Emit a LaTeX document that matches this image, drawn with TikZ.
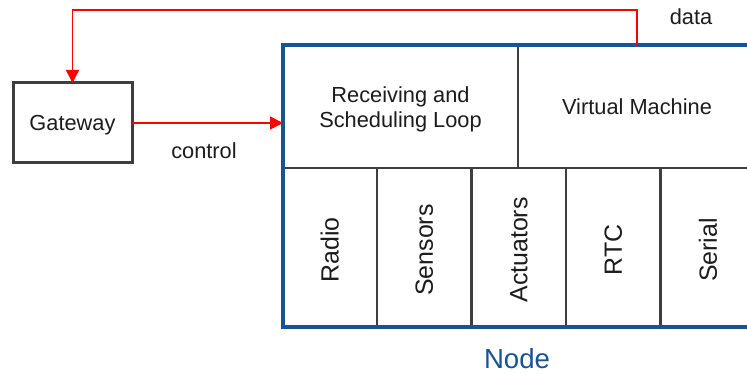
\documentclass[tikz,border=0pt]{standalone}
\usepackage{fontspec}
\setmainfont{Liberation Sans}
\usetikzlibrary{arrows.meta}
\definecolor{nodeblue}{RGB}{22,84,150}
\definecolor{frame}{RGB}{62,62,62}
\definecolor{ink}{RGB}{28,28,28}
\definecolor{linkred}{RGB}{255,0,0}
\begin{document}
\begin{tikzpicture}[x=1pt,y=-1pt,
  every node/.style={font=\fontsize{21.8}{25.5}\selectfont, text=ink, inner sep=0pt, outer sep=0pt},
  unit/.style={draw=frame, line width=2.6pt, rectangle, align=center},
  slot/.style={unit, rotate=90, minimum width=159pt, minimum height=94.6pt,
               font=\fontsize{24.9}{28}\selectfont},
  link/.style={draw=linkred, line width=1.5pt, -{Triangle[length=13pt,width=13pt]}},
  caption/.style={font=\fontsize{27.6}{30}\selectfont, text=nodeblue}
]
\useasboundingbox (0,0) rectangle (747,374);
\clip (0,0) rectangle (747,374);
\fill[white] (0,0) rectangle (747,374);

% gateway
\node[unit, line width=3pt, minimum width=119pt, minimum height=80pt, text depth=0pt] (gw) at (72.5,123) {Gateway};

% upper row of the node
\node[unit, minimum width=235pt, minimum height=123pt] (loop) at (400.5,106.5) {};
\node[align=center] (looptext) at ([yshift=-3pt]loop.center) {Receiving and\\Scheduling Loop};
\node[unit, minimum width=238pt, minimum height=123pt, text depth=0pt] (vm) at (637,106.5) {Virtual Machine};

% lower row: drivers
\node[slot] (radio)   at (329.6,247.5) {Radio\hspace{5pt}};
\node[slot] (sensors) at (424.2,247.5) {Sensors\hspace{5pt}};
\node[slot] (act)     at (518.8,247.5) {Actuators\hspace{5pt}};
\node[slot] (rtc)     at (613.4,247.5) {RTC\hspace{5pt}};
\node[slot] (serial)  at (708,247.5) {Serial\hspace{5pt}};

% outer frame of the node
\node[draw=nodeblue, line width=4pt, rectangle, minimum width=473pt, minimum height=282pt] (box) at (519.5,186) {};
\node[caption] (cap) at (517,359) {Node};

% links
\draw[link] (gw.east) -- (gw.east -| box.west);
\draw[link] (vm.north) -- ++(0,-35) -| (gw.north);

\node (ctl) at (204,151) {control};
\node (dat) at (691,17) {data};
\end{tikzpicture}
\end{document}
